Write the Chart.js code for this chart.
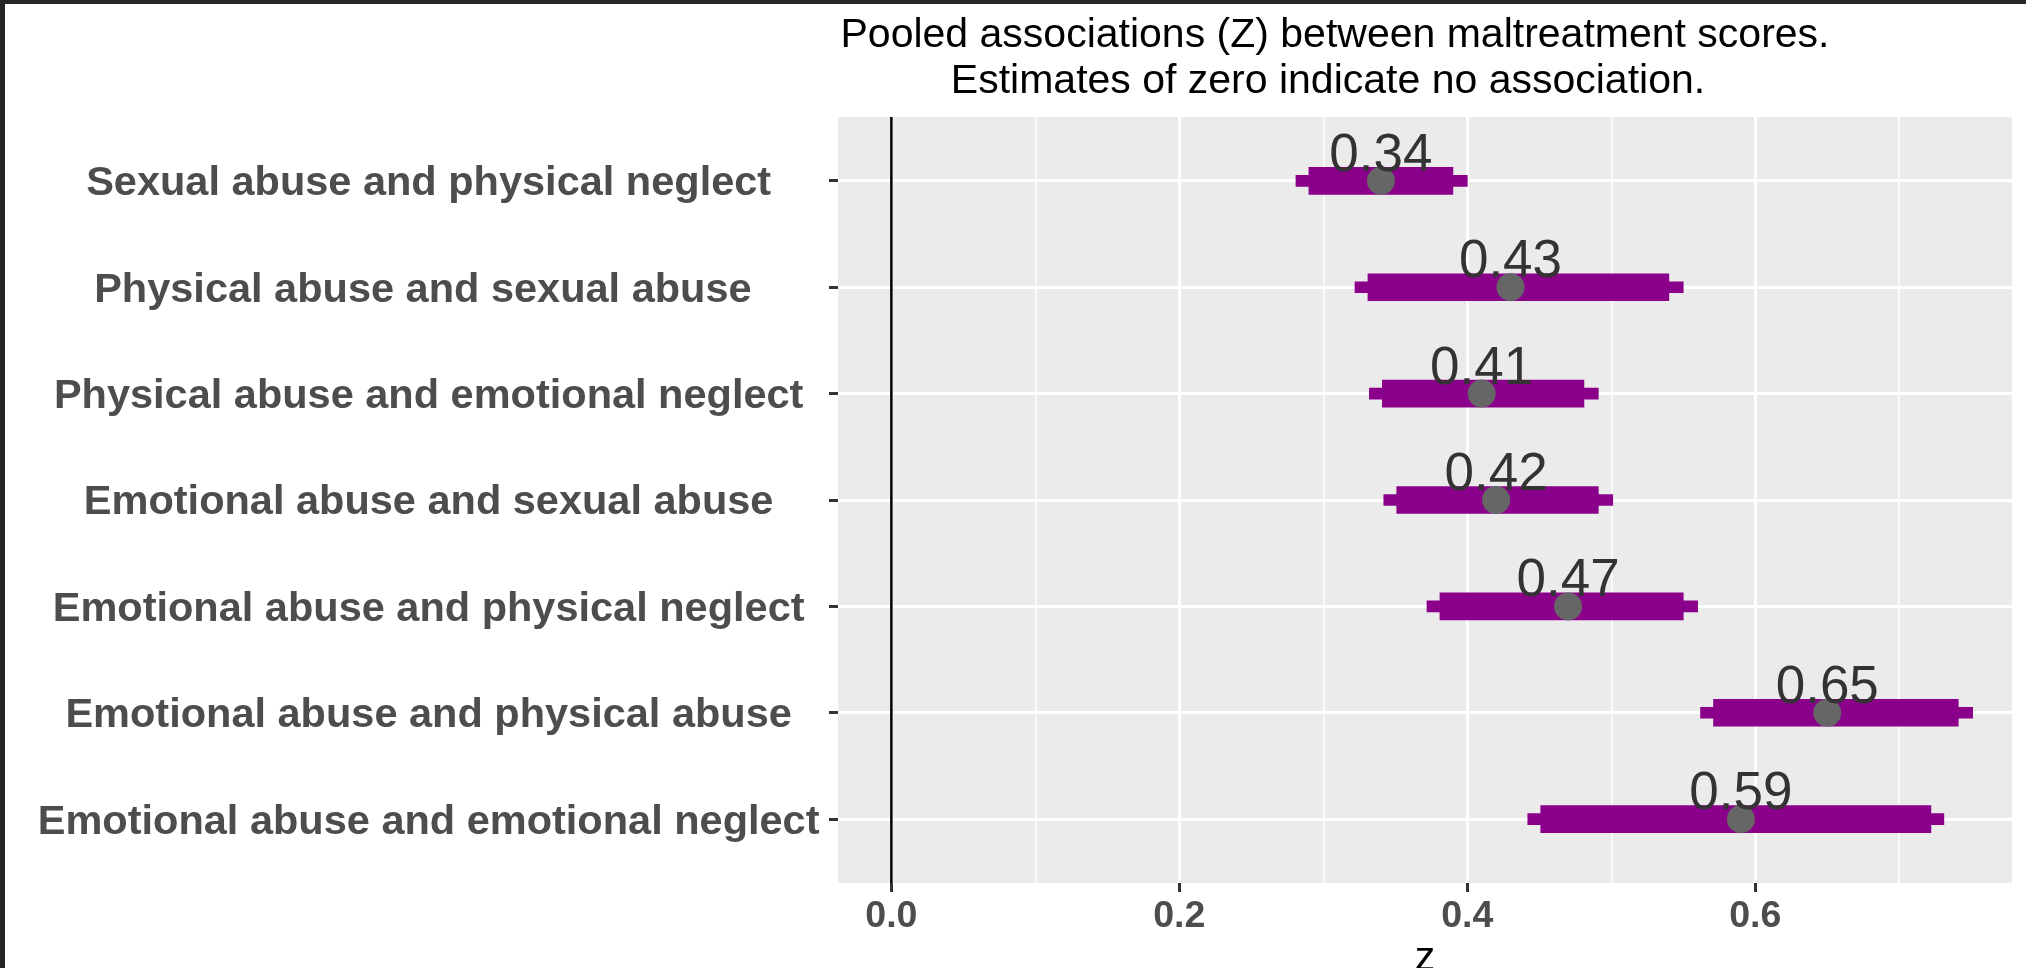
<!DOCTYPE html>
<html>
<head>
<meta charset="utf-8">
<script src="https://cdn.jsdelivr.net/npm/chart.js@4/dist/chart.umd.min.js"></script>
<style>
html,body{margin:0;padding:0;background:#ffffff;}
#wrap{width:2026px;height:968px;position:relative;overflow:hidden;}
canvas{display:block;}
</style>
</head>
<body>
<div id="wrap"><canvas id="c" width="2026" height="968"></canvas></div>
<script>
const categories = [
  "Sexual abuse and physical neglect",
  "Physical abuse and sexual abuse ",
  "Physical abuse and emotional neglect",
  "Emotional abuse and sexual abuse",
  "Emotional abuse and physical neglect",
  "Emotional abuse and physical abuse",
  "Emotional abuse and emotional neglect"
];
const estimates = [0.34, 0.43, 0.41, 0.42, 0.47, 0.65, 0.59];
const outerLow  = [0.281, 0.322, 0.332, 0.342, 0.372, 0.562, 0.442];
const outerHigh = [0.400, 0.550, 0.491, 0.501, 0.560, 0.751, 0.731];
const innerLow  = [0.290, 0.331, 0.341, 0.351, 0.381, 0.571, 0.451];
const innerHigh = [0.390, 0.540, 0.481, 0.491, 0.550, 0.741, 0.722];
const xTickValues = [0.0, 0.1, 0.2, 0.3, 0.4, 0.5, 0.6, 0.7];
const xTickLabels = ["0.0", "", "0.2", "", "0.4", "", "0.6", ""];
const titleLines = [
  "Pooled associations (Z) between maltreatment scores.",
  "Estimates of zero indicate no association."
];
const xAxisTitle = "z";
const referenceValue = 0;

const FONT = '"Liberation Sans", Arial, Helvetica, sans-serif';

const decor = {
  id: 'decor',
  beforeDraw(chart) {
    const {ctx, chartArea: a, width, height} = chart;
    ctx.save();
    ctx.fillStyle = '#ffffff';
    ctx.fillRect(0, 0, width, height);
    ctx.fillStyle = '#262626';
    ctx.fillRect(0, 0, width, 4);
    ctx.fillRect(0, 0, 5, height);
    ctx.fillStyle = '#EBEBEB';
    ctx.fillRect(a.left, a.top, a.right - a.left, a.bottom - a.top);
    ctx.fillStyle = '#000000';
    ctx.font = '41px ' + FONT;
    ctx.textAlign = 'center';
    ctx.textBaseline = 'alphabetic';
    ctx.fillText(titleLines[0], 1335, 47);
    ctx.fillText(titleLines[1], 1328, 93);
    ctx.restore();
  },
  beforeDatasetsDraw(chart) {
    const {ctx, chartArea: a, scales} = chart;
    const px = scales.x.getPixelForValue(referenceValue);
    ctx.save();
    ctx.strokeStyle = '#000000';
    ctx.lineWidth = 2.5;
    ctx.beginPath();
    ctx.moveTo(px, a.top);
    ctx.lineTo(px, a.bottom);
    ctx.stroke();
    ctx.restore();
  },
  afterDatasetsDraw(chart) {
    const {ctx, scales} = chart;
    ctx.save();
    ctx.fillStyle = '#333333';
    ctx.font = '53px ' + FONT;
    ctx.textAlign = 'center';
    ctx.textBaseline = 'alphabetic';
    estimates.forEach((v, i) => {
      const x = scales.x.getPixelForValue(v);
      const y = scales.y.getPixelForValue(i + 1);
      ctx.fillText(v.toFixed(2), x, y - 10);
    });
    ctx.restore();
  }
};

new Chart(document.getElementById('c'), {
  type: 'bar',
  data: {
    datasets: [
      {
        type: 'scatter',
        data: estimates.map((v, i) => ({x: v, y: i + 1})),
        pointRadius: 14,
        pointBackgroundColor: '#666666',
        pointBorderWidth: 0,
        order: 1
      },
      {
        type: 'bar',
        indexAxis: 'y',
        data: innerLow.map((v, i) => ({y: i + 1, x: [v, innerHigh[i]]})),
        backgroundColor: '#8B008B',
        barThickness: 27,
        grouped: false,
        borderWidth: 0,
        order: 2
      },
      {
        type: 'bar',
        indexAxis: 'y',
        data: outerLow.map((v, i) => ({y: i + 1, x: [v, outerHigh[i]]})),
        backgroundColor: '#8B008B',
        barThickness: 11,
        grouped: false,
        borderWidth: 0,
        order: 3
      }
    ]
  },
  options: {
    indexAxis: 'y',
    responsive: false,
    animation: false,
    events: [],
    layout: {padding: {top: 117, left: 0, right: 0, bottom: 0}},
    plugins: {legend: {display: false}, tooltip: {enabled: false}, title: {display: false}},
    scales: {
      x: {
        type: 'linear',
        position: 'bottom',
        offset: false,
        min: -0.03706,
        max: 0.77831,
        afterBuildTicks: (s) => { s.ticks = xTickValues.map(v => ({value: v})); },
        afterFit: (s) => { s.height = 85; },
        border: {display: false},
        grid: {
          offset: false,
          color: '#ffffff',
          lineWidth: (c) => (c.index % 2 === 0 ? 3 : 1.5),
          tickColor: (c) => (c.index % 2 === 0 ? '#333333' : 'rgba(0,0,0,0)'),
          tickWidth: 3,
          tickLength: 9,
          drawTicks: true
        },
        ticks: {
          callback: (v, i) => xTickLabels[i],
          color: '#4D4D4D',
          font: {family: FONT, size: 37.5, weight: 'bold'},
          padding: 2,
          maxRotation: 0,
          autoSkip: false
        },
        title: {
          display: true,
          text: xAxisTitle,
          color: '#000000',
          font: {family: FONT, size: 41},
          padding: {top: 0, bottom: -15.5}
        }
      },
      y: {
        type: 'linear',
        position: 'left',
        offset: false,
        min: 0.4,
        max: 7.6,
        reverse: true,
        afterBuildTicks: (s) => { s.ticks = categories.map((c, i) => ({value: i + 1})); },
        afterFit: (s) => { s.width = 838; },
        border: {display: false},
        grid: {
          offset: false,
          color: '#ffffff',
          lineWidth: 3,
          tickColor: '#333333',
          tickWidth: 3,
          tickLength: 9,
          drawTicks: true
        },
        ticks: {
          callback: (v, i) => categories[i],
          color: '#4D4D4D',
          font: {family: FONT, size: 41.5, weight: 'bold'},
          crossAlign: 'center',
          padding: 9.5,
          labelOffset: 3,
          autoSkip: false
        }
      }
    }
  },
  plugins: [decor]
});
</script>
</body>
</html>
